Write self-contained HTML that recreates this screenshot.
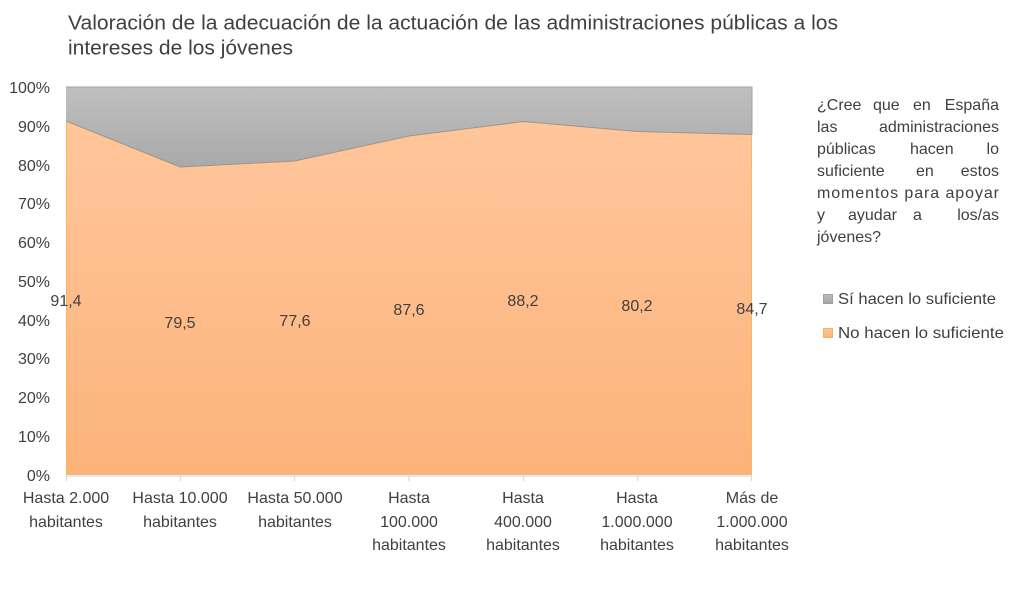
<!DOCTYPE html>
<html><head><meta charset="utf-8"><style>
html,body{margin:0;padding:0;background:#fff;}
svg{display:block;}
text{font-family:"Liberation Sans",sans-serif;fill:#404040;}
</style></head><body>
<svg width="1024" height="606" viewBox="0 0 1024 606" xmlns="http://www.w3.org/2000/svg">
<defs>
<linearGradient id="gg" x1="0" y1="87" x2="0" y2="168" gradientUnits="userSpaceOnUse">
<stop offset="0" stop-color="#bfbfbf"/><stop offset="1" stop-color="#a9a9a9"/>
</linearGradient>
<linearGradient id="og" x1="0" y1="121" x2="0" y2="475" gradientUnits="userSpaceOnUse">
<stop offset="0" stop-color="#ffc69b"/><stop offset="1" stop-color="#fcb37a"/>
</linearGradient>
<linearGradient id="lg" x1="0" y1="0" x2="0" y2="1">
<stop offset="0" stop-color="#bcbcbc"/><stop offset="1" stop-color="#a5a5a5"/>
</linearGradient>
<linearGradient id="lo" x1="0" y1="0" x2="0" y2="1">
<stop offset="0" stop-color="#ffc69b"/><stop offset="1" stop-color="#fcb37a"/>
</linearGradient>
</defs>
<text x="68" y="29.5" font-size="20" textLength="770" lengthAdjust="spacingAndGlyphs">Valoración de la adecuación de la actuación de las administraciones públicas a los</text>
<text x="68" y="54.5" font-size="20" textLength="225" lengthAdjust="spacingAndGlyphs">intereses de los jóvenes</text>

<!-- grey area -->
<polygon points="66,87 752,87 752,134.5 637.7,131.5 523.3,121.5 409,136 294.7,161 180.3,167 66,121" fill="url(#gg)"/>
<polyline points="66,87 752,87 752,134.5" fill="none" stroke="#a0a0a0" stroke-width="1"/>
<!-- orange area -->
<polygon points="66,121 180.3,167 294.7,161 409,136 523.3,121.5 637.7,131.5 752,134.5 752,475 66,475" fill="url(#og)"/>
<polyline points="66,121 180.3,167 294.7,161 409,136 523.3,121.5 637.7,131.5 752,134.5" fill="none" stroke="#a09488" stroke-width="1"/>
<line x1="66.5" y1="121" x2="66.5" y2="475" stroke="#f9b35c" stroke-width="1"/>
<line x1="751.5" y1="134.5" x2="751.5" y2="475" stroke="#fab566" stroke-width="1"/>

<!-- x axis -->
<line x1="66" y1="476" x2="752" y2="476" stroke="#d9d9d9" stroke-width="1.2"/>
<g stroke="#d9d9d9" stroke-width="1.2">
<line x1="66.5" y1="476" x2="66.5" y2="481"/>
<line x1="180.5" y1="476" x2="180.5" y2="481"/>
<line x1="294.5" y1="476" x2="294.5" y2="481"/>
<line x1="409" y1="476" x2="409" y2="481"/>
<line x1="523.5" y1="476" x2="523.5" y2="481"/>
<line x1="637.5" y1="476" x2="637.5" y2="481"/>
<line x1="751.5" y1="476" x2="751.5" y2="481"/>
</g>

<!-- y labels -->
<g font-size="16" text-anchor="end">
<text x="50" y="93">100%</text>
<text x="50" y="132">90%</text>
<text x="50" y="171">80%</text>
<text x="50" y="209">70%</text>
<text x="50" y="248">60%</text>
<text x="50" y="287">50%</text>
<text x="50" y="326">40%</text>
<text x="50" y="364">30%</text>
<text x="50" y="403">20%</text>
<text x="50" y="442">10%</text>
<text x="50" y="481">0%</text>
</g>

<!-- x labels -->
<g font-size="16" text-anchor="middle">
<text x="66" y="503">Hasta 2.000</text>
<text x="66" y="527">habitantes</text>
<text x="180" y="503">Hasta 10.000</text>
<text x="180" y="527">habitantes</text>
<text x="295" y="503">Hasta 50.000</text>
<text x="295" y="527">habitantes</text>
<text x="409" y="503">Hasta</text>
<text x="409" y="527">100.000</text>
<text x="409" y="550">habitantes</text>
<text x="523" y="503">Hasta</text>
<text x="523" y="527">400.000</text>
<text x="523" y="550">habitantes</text>
<text x="637" y="503">Hasta</text>
<text x="637" y="527">1.000.000</text>
<text x="637" y="550">habitantes</text>
<text x="752" y="503">Más de</text>
<text x="752" y="527">1.000.000</text>
<text x="752" y="550">habitantes</text>
</g>

<!-- data labels -->
<g font-size="16" text-anchor="middle">
<text x="66" y="306">91,4</text>
<text x="180" y="328">79,5</text>
<text x="295" y="326">77,6</text>
<text x="409" y="315">87,6</text>
<text x="523" y="306">88,2</text>
<text x="637" y="311">80,2</text>
<text x="752" y="314">84,7</text>
</g>

<!-- legend title -->
<g font-size="16">
<text x="817" y="110">¿Cree</text><text x="873" y="110">que</text><text x="913" y="110">en</text><text x="999" y="110" text-anchor="end">España</text>
<text x="817" y="132">las</text><text x="999" y="132" text-anchor="end">administraciones</text>
<text x="817" y="154">públicas</text><text x="910" y="154">hacen</text><text x="999" y="154" text-anchor="end">lo</text>
<text x="817" y="176">suficiente</text><text x="916" y="176">en</text><text x="999" y="176" text-anchor="end">estos</text>
<text x="817" y="198" textLength="182" lengthAdjust="spacing">momentos para apoyar</text>
<text x="817" y="220">y</text><text x="848" y="220">ayudar</text><text x="913" y="220">a</text><text x="999" y="220" text-anchor="end">los/as</text>
<text x="817" y="242">jóvenes?</text>
</g>

<!-- legend items -->
<rect x="823.5" y="294.5" width="9" height="9" fill="url(#lg)" stroke="#a0a0a0" stroke-width="1"/>
<text x="838" y="304" font-size="16" textLength="158" lengthAdjust="spacingAndGlyphs">Sí hacen lo suficiente</text>
<rect x="823.5" y="328.5" width="9" height="9" fill="url(#lo)" stroke="#f9b35c" stroke-width="1"/>
<text x="838" y="338" font-size="16" textLength="166" lengthAdjust="spacingAndGlyphs">No hacen lo suficiente</text>
</svg>
</body></html>
